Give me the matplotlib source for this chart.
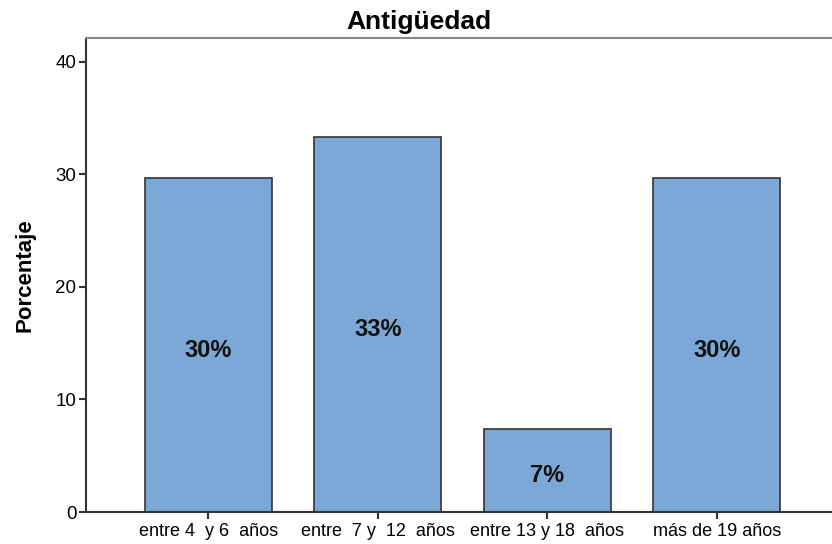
import matplotlib.pyplot as plt

# Antigüedad distribution (percentages)
categorias = ["entre 4  y 6  años", "entre  7 y  12  años", "entre 13 y 18  años", "más de 19 años"]
porcentajes = [29.63, 33.33, 7.41, 29.63]
etiquetas = ["30%", "33%", "7%", "30%"]

plt.rcParams["font.family"] = ["Liberation Sans", "DejaVu Sans"]

fig = plt.figure(figsize=(8.32, 5.44), dpi=100)
ax = fig.add_axes([0.1034, 0.0588, 0.905, 0.8713])

x = range(len(categorias))
ax.bar(x, porcentajes, width=0.75, color="#7BA8D6", edgecolor="#333333", linewidth=1.2)

# percentage labels centred inside each bar
for i, (v, t) in enumerate(zip(porcentajes, etiquetas)):
    ax.annotate(t, (i, v / 2), xytext=(0, -4), textcoords="offset points",
                ha="center", va="center", fontsize=17, fontweight="bold", color="#111111")

ax.set_xlim(-0.72, 3.72)
ax.set_ylim(0, 42.1)
ax.set_yticks([0, 10, 20, 30, 40])
ax.set_xticks(list(x))
ax.set_xticklabels(categorias, fontsize=13)
ax.tick_params(axis="y", labelsize=13.5, length=5, width=1.5, color="#333333", pad=2)
ax.tick_params(axis="x", length=5, width=1.5, color="#333333", pad=3)

ax.set_ylabel("Porcentaje", fontsize=16, fontweight="bold", labelpad=14)
fig.suptitle("Antigüedad", fontsize=19, fontweight="bold", x=0.503, y=0.982)

ax.spines["right"].set_visible(False)
ax.spines["left"].set_color("#333333")
ax.spines["left"].set_linewidth(1.5)
ax.spines["bottom"].set_color("#333333")
ax.spines["bottom"].set_linewidth(1.5)
ax.spines["top"].set_color("#888888")
ax.spines["top"].set_linewidth(1.5)

plt.savefig("out.png", dpi=100)
